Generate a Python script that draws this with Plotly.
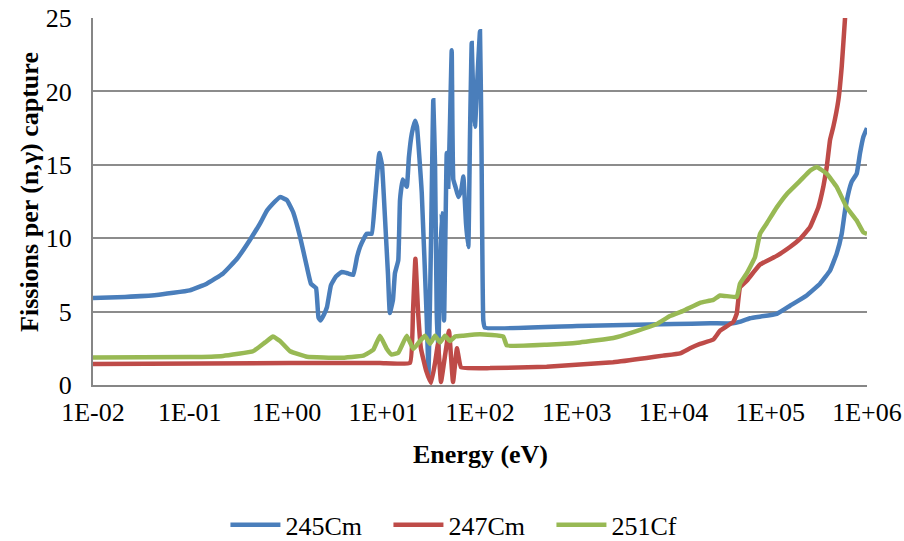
import plotly.graph_objects as go

# Energy grid (eV) and fissions per (n,gamma) capture for each nuclide
cm245_energy = [0.01, 0.0214, 0.0455, 0.1, 0.15, 0.221, 0.308, 0.42, 0.532, 0.631, 0.71, 0.857,
                1.01, 1.167, 1.38, 1.63, 1.79, 2.02, 2.14, 2.25, 2.44, 2.62, 2.88, 3.25, 3.72,
                4.33, 4.9, 5.35, 5.75, 6.22, 6.75, 7.6, 8.22, 9.1, 9.7, 10.4, 11.2, 11.7, 12.6,
                13.2, 14.3, 14.9, 15.9, 17.5, 18.4, 19.7, 21.3, 22.3, 25.0, 28.1, 29.4, 31.2,
                32.9, 34.3, 35.7, 37.1, 38.6, 40.2, 42.5, 45.3, 47.0, 49.0, 51.0, 53.0, 55.8,
                59.7, 63.7, 67.3, 71.7, 75.7, 78.8, 82.1, 85.7, 88.8, 94.2, 100, 103.7, 108.2,
                112.6, 1000, 10000, 24000, 41000, 48000, 61800, 117000, 160000, 238000, 327000,
                415000, 486000, 548000, 593000, 641000, 695000, 783000, 847000, 917000, 1000000]
cm245_ratio = [5.93, 6.0, 6.13, 6.45, 6.9, 7.6, 8.6, 9.9, 11.0, 11.9, 12.3, 12.8,
               12.6, 11.8, 10.1, 8.0, 6.9, 6.6, 4.6, 4.4, 4.8, 5.3, 6.8, 7.4, 7.7,
               7.6, 7.5, 8.7, 9.4, 9.9, 10.3, 10.3, 12.6, 15.8, 15.0, 11.5, 7.5, 4.9, 5.8,
               7.6, 8.5, 12.6, 14.0, 13.5, 15.5, 17.1, 18.0, 17.6, 13.1, 4.65, 0.8, 10.0,
               19.4, 15.0, 4.9, 2.2, 8.0, 11.7, 4.4, 15.8, 13.5, 18.0, 22.8, 14.0, 13.5,
               12.8, 13.2, 14.2, 11.0, 9.4, 17.0, 23.3, 19.0, 17.6, 21.0, 24.1, 16.0, 4.4,
               3.9, 4.02, 4.15, 4.2, 4.2, 4.3, 4.55, 4.85, 5.4, 6.1, 6.9,
               7.8, 8.95, 10.3, 11.9, 13.05, 13.85, 14.4, 15.8, 16.9, 17.5]

cm247_energy = [0.01, 1.09, 9.25, 18.9, 20.3, 21.5, 22.9, 24.5, 27.7, 31.2, 34.3, 36.8, 39.5,
                43.5, 47.8, 52.6, 57.8, 63.7, 127, 489, 2370, 5280, 7790, 11700, 14800,
                18800, 25800, 30300, 41500, 45000, 48700, 57100, 78400, 116700, 160000,
                202900, 257500, 314000, 353500, 383000, 415000, 449000, 505700, 548000,
                593000, 637000]
cm247_ratio = [1.43, 1.5, 1.5, 1.5, 5.0, 8.6, 5.0, 2.5, 1.0, 0.15, 1.5, 2.8, 0.2,
               2.0, 3.7, 0.2, 2.5, 1.2, 1.15, 1.25, 1.55, 1.84, 2.0, 2.16, 2.5,
               2.8, 3.1, 3.7, 4.3, 4.84, 6.65, 7.1, 8.2, 8.8, 9.4,
               9.95, 10.75, 12.1, 13.5, 14.8, 16.7, 17.6, 19.4, 21.7,
               25.0, 28.0]

cf251_energy = [0.01, 0.1, 0.221, 0.451, 0.6, 0.725, 0.857, 1.09, 1.63, 3.57, 6.22, 7.89,
                9.25, 10.9, 12.2, 14.3, 17.5, 20.5, 24.0, 27.0, 30.4, 34.3, 38.6, 43.5,
                49.0, 55.2, 67.2, 100, 174, 189, 489, 1080, 2390, 3840, 6700, 9200, 12600,
                18800, 25800, 30300, 45000, 48700, 57100, 69500, 78400, 91800, 116700,
                147900, 202900, 257500, 302000, 383000, 486000, 617000, 783000, 917000,
                1000000]
cf251_ratio = [1.87, 1.9, 1.98, 2.3, 2.9, 3.3, 3.0, 2.3, 1.92, 1.85, 2.0, 2.4,
               3.35, 2.45, 2.07, 2.2, 3.35, 2.45, 3.0, 3.35, 2.8, 3.35, 2.9, 3.35,
               3.0, 3.3, 3.36, 3.45, 3.3, 2.7, 2.75, 2.9, 3.2, 3.6, 4.15, 4.7, 5.05,
               5.6, 5.8, 6.1, 6.0, 6.9, 7.6, 8.7, 10.3, 11.0, 12.1,
               13.0, 13.9, 14.6, 14.85, 14.4, 13.5, 12.1, 11.2, 10.4,
               10.3]

series = [
    ("245Cm", cm245_energy, cm245_ratio, "#4A7EBB"),
    ("247Cm", cm247_energy, cm247_ratio, "#BE4B48"),
    ("251Cf", cf251_energy, cf251_ratio, "#98B954"),
]

x_tick_vals = [1e-2, 1e-1, 1e0, 1e1, 1e2, 1e3, 1e4, 1e5, 1e6]
x_tick_text = ["1E-02", "1E-01", "1E+00", "1E+01", "1E+02", "1E+03", "1E+04", "1E+05", "1E+06"]
y_tick_vals = [0, 5, 10, 15, 20, 25]

serif = "'Liberation Serif', 'Times New Roman', serif"
fsize = 26

fig = go.Figure()
for name, xs, ys, color in series:
    fig.add_trace(go.Scatter(
        x=xs, y=ys, name=name, mode="lines",
        line=dict(color=color, width=4.5, shape="spline", smoothing=0.3),
    ))

fig.update_layout(
    width=904, height=541,
    margin=dict(l=93, r=37, t=18, b=156, autoexpand=False),
    paper_bgcolor="white", plot_bgcolor="white",
    font=dict(family=serif, size=fsize, color="black"),
    showlegend=True,
    legend=dict(orientation="h", x=0.487, xanchor="center", y=-0.381, yanchor="middle",
                font=dict(family=serif, size=fsize, color="black"),
                itemwidth=50, entrywidth=98, entrywidthmode="pixels", tracegroupgap=0),
    annotations=[
        dict(text="<b>Energy (eV)</b>", xref="paper", yref="paper", x=0.5, y=-0.19,
             xanchor="center", yanchor="middle", showarrow=False,
             font=dict(family=serif, size=fsize, color="black")),
        dict(text="<b>Fissions per (n,γ) capture</b>", xref="paper", yref="paper",
             x=-0.0814, y=0.526, xanchor="center", yanchor="middle", textangle=-90,
             showarrow=False, font=dict(family=serif, size=fsize, color="black")),
    ],
)
fig.update_xaxes(
    type="log", range=[-2, 6],
    tickvals=x_tick_vals, ticktext=x_tick_text,
    showgrid=False, showline=True, linecolor="#868686", linewidth=2,
    ticks="", ticklabelstandoff=3, tickfont=dict(family=serif, size=fsize),
    zeroline=False, automargin=False,
)
fig.update_yaxes(
    range=[0, 25], tickvals=y_tick_vals,
    showgrid=True, gridcolor="#8C8C8C", gridwidth=1.5,
    showline=True, linecolor="#868686", linewidth=2,
    ticks="", ticklabelstandoff=14, tickfont=dict(family=serif, size=fsize),
    zeroline=False, automargin=False,
)

fig.write_html("out.html")
